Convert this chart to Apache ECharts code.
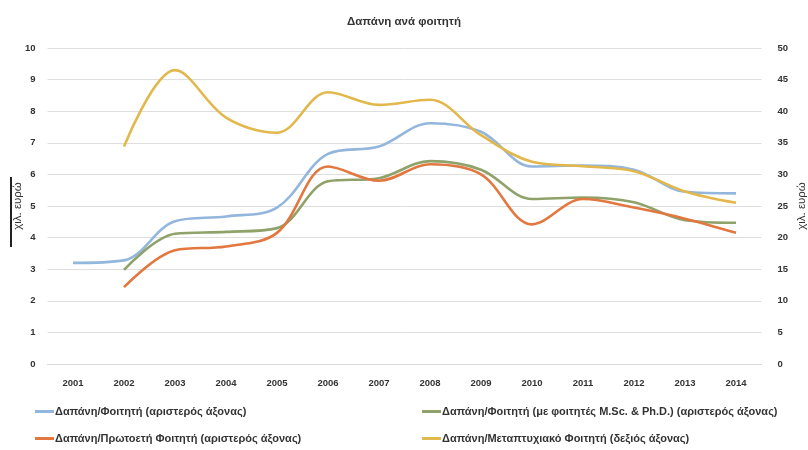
<!DOCTYPE html>
<html>
<head>
<meta charset="utf-8">
<script src="https://cdn.jsdelivr.net/npm/echarts@6/dist/echarts.min.js"></script>
<style>html,body{margin:0;padding:0;background:#fff}#c{width:808px;height:450px}</style>
</head>
<body>
<div id="c"></div>
<script>
var years = ['2001','2002','2003','2004','2005','2006','2007','2008','2009','2010','2011','2012','2013','2014'];
var perStudent = [3.2, 3.28, 4.52, 4.67, 4.95, 6.65, 6.88, 7.62, 7.35, 6.25, 6.28, 6.15, 5.45, 5.4];
var perStudentMscPhd = [null, 2.98, 4.12, 4.18, 4.3, 5.78, 5.88, 6.42, 6.15, 5.22, 5.27, 5.12, 4.55, 4.47];
var perFirstYear = [null, 2.43, 3.6, 3.72, 4.15, 6.25, 5.8, 6.32, 6.0, 4.42, 5.22, 4.95, 4.6, 4.15];
var perPostgrad = [null, 34.4, 46.5, 39.0, 36.6, 43.0, 41.0, 41.8, 36.2, 32.0, 31.3, 30.5, 27.3, 25.5];
var leftTicks = [0, 1, 2, 3, 4, 5, 6, 7, 8, 9, 10];
var rightTicks = [0, 5, 10, 15, 20, 25, 30, 35, 40, 45, 50];
var names = ['Δαπάνη/Φοιτητή (αριστερός άξονας)',
             'Δαπάνη/Φοιτητή (με φοιτητές M.Sc. & Ph.D.) (αριστερός άξονας)',
             'Δαπάνη/Πρωτοετή Φοιτητή (αριστερός άξονας)',
             'Δαπάνη/Μεταπτυχιακό Φοιτητή (δεξιός άξονας)'];
var colors = ['#93b6dd', '#8ea26a', '#e2773f', '#e2b84c'];

var chart = echarts.init(document.getElementById('c'));
var font = 'Liberation Sans';
var axisLbl = {color: '#333', fontSize: 9.5, fontWeight: 'bold', fontFamily: font};
function line(name, data, idx, yIdx) {
  return {name: name, type: 'line', data: data, yAxisIndex: yIdx, smooth: 0.35,
    showSymbol: false, symbol: 'none', connectNulls: false,
    lineStyle: {width: 2.6, color: colors[idx]}, itemStyle: {color: colors[idx]}};
}
var legTxt = {fontSize: 11, fontWeight: 'bold', color: '#333', fontFamily: font, padding: [0,0,0,-4]};
chart.setOption({
  animation: false,
  backgroundColor: '#fff',
  title: {text: 'Δαπάνη ανά φοιτητή', left: 'center', top: 11,
    textStyle: {fontSize: 11.5, fontWeight: 'bold', color: '#333', fontFamily: font}},
  legend: [
    {orient: 'vertical', left: 30, top: 401, itemGap: 16, itemWidth: 19, itemHeight: 3,
     data: [names[0], names[2]], icon: 'rect', textStyle: legTxt},
    {orient: 'vertical', left: 417, top: 401, itemGap: 16, itemWidth: 19, itemHeight: 3,
     data: [names[1], names[3]], icon: 'rect', textStyle: legTxt}
  ],
  grid: {left: 47.5, right: 46.5, top: 48, bottom: 86, outerBoundsMode: 'none', containLabel: false},
  xAxis: {type: 'category', data: years, boundaryGap: true,
    axisLine: {show: true, lineStyle: {color: '#d9d9d9'}}, axisTick: {show: false},
    axisLabel: Object.assign({margin: 14}, axisLbl)},
  yAxis: [
    {type: 'value', min: leftTicks[0], max: leftTicks[leftTicks.length-1], interval: 1,
     name: 'χιλ. ευρώ', nameLocation: 'middle', nameGap: 24, nameRotate: 90, nameMoveOverlap: false,
     nameTextStyle: {fontSize: 11.5, color: '#333', fontFamily: font},
     axisLine: {show: false}, axisTick: {show: false},
     axisLabel: Object.assign({margin: 12}, axisLbl),
     splitLine: {lineStyle: {color: '#dedede', width: 1}}},
    {type: 'value', min: rightTicks[0], max: rightTicks[rightTicks.length-1], interval: 5,
     name: 'χιλ. ευρώ', nameLocation: 'middle', nameGap: 34, nameRotate: 90, nameMoveOverlap: false,
     nameTextStyle: {fontSize: 11.5, color: '#333', fontFamily: font},
     axisLine: {show: false}, axisTick: {show: false},
     axisLabel: Object.assign({margin: 16}, axisLbl),
     splitLine: {show: false}}
  ],
  graphic: [{type: 'line', shape: {x1: 11, y1: 177, x2: 11, y2: 247},
    style: {stroke: '#222', lineWidth: 2}}],
  series: [
    line(names[0], perStudent, 0, 0),
    line(names[1], perStudentMscPhd, 1, 0),
    line(names[2], perFirstYear, 2, 0),
    line(names[3], perPostgrad, 3, 1)
  ]
});
</script>
</body>
</html>
